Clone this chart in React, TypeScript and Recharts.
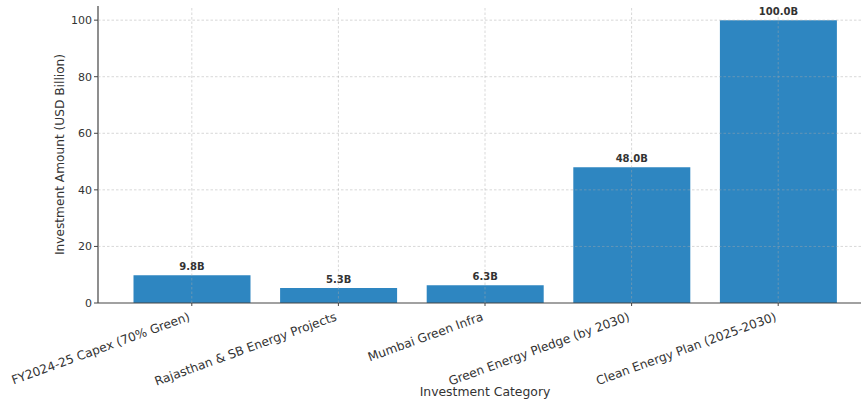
import React from 'react';
import {
  BarChart,
  Bar,
  XAxis,
  YAxis,
  LabelList,
  Label,
  ReferenceLine,
} from 'recharts';

const categories = [
  'FY2024-25 Capex (70% Green)',
  'Rajasthan & SB Energy Projects',
  'Mumbai Green Infra',
  'Green Energy Pledge (by 2030)',
  'Clean Energy Plan (2025-2030)',
];
const amounts = [9.8, 5.3, 6.3, 48.0, 100.0];
const yTicks = [0, 20, 40, 60, 80, 100];

const data = categories.map((name, i) => ({ name, amount: amounts[i] }));

const FONT = '"DejaVu Sans", sans-serif';
const TEXT = '#333333';
const AXIS = '#444444';
const GRID = { stroke: '#a8a8a8', strokeOpacity: 0.45, strokeDasharray: '2.5 2' };

// rotated category labels, right end hanging under the tick
function CategoryTick(props: any) {
  const { x, y, payload } = props;
  return (
    <g transform={`translate(${x - 1},${y + 12}) rotate(-20)`}>
      <text textAnchor="end" fontSize={12.2} fill={TEXT} fontFamily={FONT}>
        {payload.value}
      </text>
    </g>
  );
}

function ValueLabel(props: any) {
  const { x, y, width, value } = props;
  return (
    <text
      x={x + width / 2}
      y={y - 5}
      textAnchor="middle"
      fontSize={10}
      fontWeight="bold"
      fill={TEXT}
      fontFamily={FONT}
    >
      {`${Number(value).toFixed(1)}B`}
    </text>
  );
}

export default function App() {
  return (
    <div
      style={{
        position: 'absolute',
        left: 0,
        top: 0,
        width: 861,
        height: 401,
        overflow: 'hidden',
        background: '#fff',
      }}
    >
      <BarChart
        width={880}
        height={401}
        data={data}
        margin={{ top: 6, right: 8, bottom: 0, left: 0 }}
      >
        <XAxis
          dataKey="name"
          height={98}
          padding={{ left: 20.5, right: 20.5 }}
          interval={0}
          tick={<CategoryTick />}
          tickSize={3}
          tickLine={{ stroke: AXIS }}
          axisLine={{ stroke: AXIS, strokeWidth: 1.2 }}
        >
          <Label
            value="Investment Category"
            position="insideBottom"
            offset={5}
            style={{ fontSize: 12.4, fill: TEXT, fontFamily: FONT }}
          />
        </XAxis>
        <YAxis
          width={98}
          domain={[0, 105]}
          ticks={yTicks}
          tickSize={4}
          tickMargin={2}
          tick={{ fontSize: 11, fill: TEXT, fontFamily: FONT }}
          tickLine={{ stroke: AXIS }}
          axisLine={{ stroke: AXIS, strokeWidth: 1.2 }}
        >
          <Label
            content={(p: any) => {
              const vb = p.viewBox;
              const cx = vb.x + 60;
              const cy = vb.y + vb.height / 2;
              return (
                <text
                  x={cx}
                  y={cy}
                  transform={`rotate(-90,${cx},${cy})`}
                  textAnchor="middle"
                  dominantBaseline="central"
                  fontSize={12.2}
                  fill={TEXT}
                  fontFamily={FONT}
                >
                  Investment Amount (USD Billion)
                </text>
              );
            }}
          />
        </YAxis>
        <Bar dataKey="amount" fill="#2e86c1" barSize={117} isAnimationActive={false}>
          <LabelList dataKey="amount" content={<ValueLabel />} />
        </Bar>
        {/* dashed grid drawn over the bars */}
        {yTicks.filter((v) => v > 0).map((v) => (
          <ReferenceLine key={`h${v}`} y={v} zIndex={600} {...GRID} />
        ))}
        {categories.map((c) => (
          <ReferenceLine key={`v${c}`} x={c} zIndex={600} {...GRID} />
        ))}
      </BarChart>
    </div>
  );
}
